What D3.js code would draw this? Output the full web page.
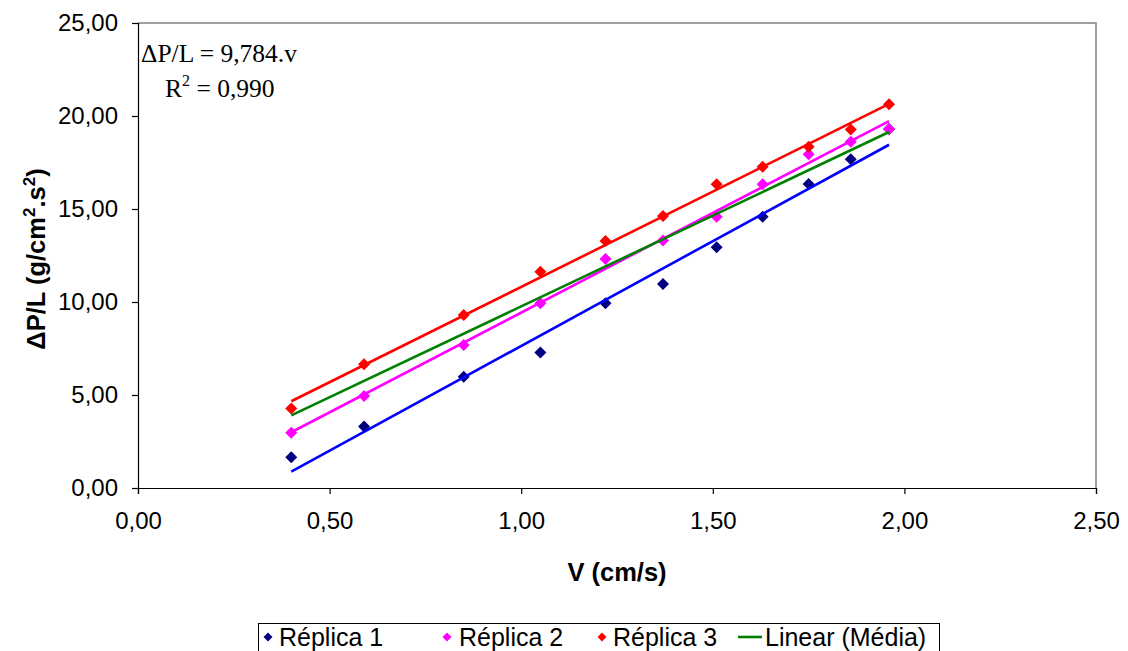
<!DOCTYPE html>
<html>
<head>
<meta charset="utf-8">
<script src="https://cdn.jsdelivr.net/npm/d3@7"></script>
<style>
  html, body { margin: 0; padding: 0; background: #fff; }
  svg { display: block; }
  text { font-family: "Liberation Sans", Arial, sans-serif; fill: #000; }
  .serif { font-family: "Liberation Serif", "Times New Roman", serif; }
</style>
</head>
<body>
<svg id="chart" width="1128" height="651"></svg>
<script>
// ---- data ----
const velocity = [0.40, 0.59, 0.85, 1.05, 1.22, 1.37, 1.51, 1.63, 1.75, 1.86, 1.96];
const replica1 = [1.65, 3.30, 5.98, 7.29, 9.93, 10.97, 12.94, 14.59, 16.34, 17.67, 19.30];
const replica2 = [2.97, 4.95, 7.69, 9.93, 12.31, 13.30, 14.59, 16.33, 17.94, 18.62, 19.30];
const replica3 = [4.28, 6.65, 9.30, 11.63, 13.28, 14.62, 16.33, 17.27, 18.35, 19.28, 20.63];
const seriesNames = ["Réplica 1", "Réplica 2", "Réplica 3"];
const seriesColors = ["#000080", "#FF00FF", "#FF0000"];
const trendColors = ["#0000FF", "#FF00FF", "#FF0000"];
const meanTrendName = "Linear (Média)";
const meanTrendColor = "#008000";
const xTicks = [0, 0.5, 1.0, 1.5, 2.0, 2.5];
const yTicks = [0, 5, 10, 15, 20, 25];
const equationText = "ΔP/L = 9,784.v";
const r2Text = "0,990";

// ---- layout ----
const svg = d3.select("#chart");
const m = { left: 138, right: 1096, top: 23, bottom: 488 };
const x = d3.scaleLinear().domain([0, 2.5]).range([m.left, m.right]);
const y = d3.scaleLinear().domain([0, 25]).range([m.bottom, m.top]);
const fmt = v => d3.format(".2f")(v).replace(".", ",");

// plot frame (top/right gray)
svg.append("path")
  .attr("d", `M${m.left},${m.top}H${m.right}V${m.bottom}`)
  .attr("fill", "none").attr("stroke", "#808080").attr("stroke-width", 1.5);

// axes
const yAxis = svg.append("g").attr("transform", `translate(${m.left},0)`)
  .call(d3.axisLeft(y).tickValues(yTicks).tickFormat(fmt).tickSize(6).tickPadding(14));
const xAxis = svg.append("g").attr("transform", `translate(0,${m.bottom})`)
  .call(d3.axisBottom(x).tickValues(xTicks).tickFormat(fmt).tickSize(6).tickPadding(18));
[yAxis, xAxis].forEach(g => {
  g.select(".domain").attr("stroke", "#000").attr("stroke-width", 1.2);
  g.selectAll(".tick line").attr("stroke", "#000").attr("stroke-width", 1.2);
  g.selectAll(".tick text").style("font-family", "'Liberation Sans', Arial, sans-serif")
    .style("font-size", "24px").attr("fill", "#000");
});

// axis titles
svg.append("text").attr("x", (m.left + m.right) / 2).attr("y", 581)
  .attr("text-anchor", "middle").style("font-size", "25.5px").style("font-weight", "bold")
  .text("V (cm/s)");
const yt = svg.append("text")
  .attr("transform", "translate(45,259) rotate(-90)")
  .attr("text-anchor", "middle").style("font-size", "25.5px").style("font-weight", "bold");
yt.append("tspan").text("ΔP/L (g/cm");
yt.append("tspan").attr("dy", -10).style("font-size", "17px").text("2");
yt.append("tspan").attr("dy", 10).text(".s");
yt.append("tspan").attr("dy", -10).style("font-size", "17px").text("2");
yt.append("tspan").attr("dy", 10).text(")");

// markers
function diamondPath(s) {
  return `M0,${-s}L${s},0L0,${s}L${-s},0Z`;
}
const seriesData = [replica1, replica2, replica3];
seriesData.forEach((vals, i) => {
  svg.append("g").selectAll("path").data(vals).join("path")
    .attr("d", diamondPath(6))
    .attr("transform", (d, j) => `translate(${x(velocity[j])},${y(d)})`)
    .attr("fill", seriesColors[i]);
});

// regression helpers
function linreg(xs, ys) {
  const mx = d3.mean(xs), my = d3.mean(ys);
  let sxy = 0, sxx = 0;
  xs.forEach((xv, k) => { sxy += (xv - mx) * (ys[k] - my); sxx += (xv - mx) ** 2; });
  const b = sxy / sxx;
  return { slope: b, intercept: my - b * mx };
}
const x0 = d3.min(velocity), x1 = d3.max(velocity);
const line = d3.line().x(d => x(d[0])).y(d => y(d[1]));
seriesData.forEach((vals, i) => {
  const r = linreg(velocity, vals);
  svg.append("path")
    .attr("d", line([[x0, r.intercept + r.slope * x0], [x1, r.intercept + r.slope * x1]]))
    .attr("stroke", trendColors[i]).attr("stroke-width", 2.6).attr("fill", "none");
});
// mean trend through origin
const meanVals = velocity.map((v, k) => (replica1[k] + replica2[k] + replica3[k]) / 3);
const slope0 = d3.sum(velocity.map((v, k) => v * meanVals[k])) / d3.sum(velocity.map(v => v * v));
svg.append("path")
  .attr("d", line([[x0, slope0 * x0], [x1, slope0 * x1]]))
  .attr("stroke", meanTrendColor).attr("stroke-width", 2.6).attr("fill", "none");

// equation annotation
svg.append("text").attr("class", "serif").attr("x", 141).attr("y", 62)
  .style("font-size", "25.5px").text(equationText);
const r2 = svg.append("text").attr("class", "serif").attr("x", 165).attr("y", 97)
  .style("font-size", "25.5px");
r2.append("tspan").text("R");
r2.append("tspan").attr("dy", -11).style("font-size", "16px").text("2");
r2.append("tspan").attr("dy", 11).text(" = " + r2Text);

// legend
const lg = svg.append("g");
lg.append("rect").attr("x", 258.5).attr("y", 623.5).attr("width", 681).attr("height", 40)
  .attr("fill", "#fff").attr("stroke", "#000").attr("stroke-width", 1);
const legendItems = [
  { name: seriesNames[0], color: seriesColors[0], type: "marker", mx: 268, tx: 279 },
  { name: seriesNames[1], color: seriesColors[1], type: "marker", mx: 447, tx: 459 },
  { name: seriesNames[2], color: seriesColors[2], type: "marker", mx: 602, tx: 613 },
  { name: meanTrendName, color: meanTrendColor, type: "line", mx: 750, tx: 765 }
];
legendItems.forEach(it => {
  if (it.type === "marker") {
    lg.append("path").attr("d", diamondPath(4.5))
      .attr("transform", `translate(${it.mx},637)`).attr("fill", it.color);
  } else {
    lg.append("line").attr("x1", it.mx - 12).attr("x2", it.mx + 12)
      .attr("y1", 637).attr("y2", 637).attr("stroke", it.color).attr("stroke-width", 2.6);
  }
  lg.append("text").attr("x", it.tx).attr("y", 646).style("font-size", "25px").text(it.name);
});
</script>
</body>
</html>
